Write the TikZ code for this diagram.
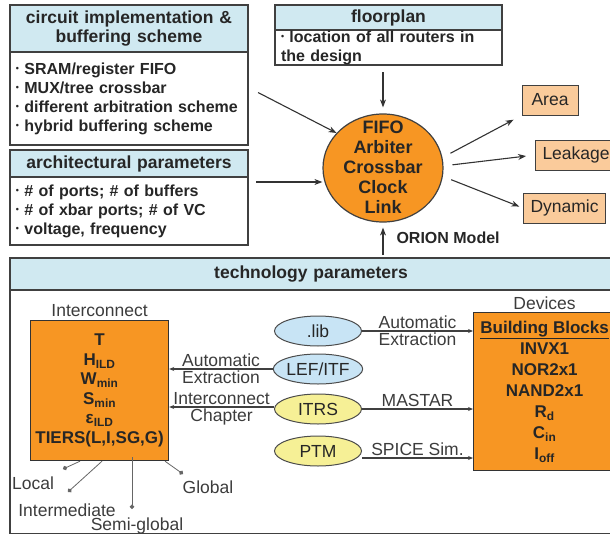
\documentclass[tikz,border=0pt]{standalone}
\usepackage{fontspec}
\setmainfont{Liberation Sans}
\usetikzlibrary{
    arrows.meta,
    positioning,
    calc,
    shapes.geometric
}
\definecolor{hdrblue}{RGB}{208,233,241}
\definecolor{orionorange}{RGB}{247,150,35}
\definecolor{peach}{RGB}{250,203,155}
\definecolor{ellblue}{RGB}{200,228,245}
\definecolor{ellyellow}{RGB}{246,240,150}
\definecolor{labgray}{RGB}{60,60,60}
\newcommand{\bul}{\raisebox{0.3ex}{\scalebox{0.55}{\textbullet}}\ }
\tikzset{
    hdrbox/.style={
        draw=black!75,
        rectangle,
        line width=1.2pt,
        fill=hdrblue,
        align=center,
        inner sep=0pt,
        outer sep=0pt,
        font=\fontsize{17.5}{19.5}\selectfont\bfseries
    },
    bodybox/.style={
        draw=black!75,
        rectangle,
        line width=1.2pt,
        fill=white,
        align=left,
        inner xsep=6pt,
        inner ysep=0pt,
        outer sep=0pt,
        font=\fontsize{16}{19}\selectfont\bfseries
    },
    orangebox/.style={
        draw=black!80,
        rectangle,
        line width=1.2pt,
        fill=orionorange,
        align=center,
        inner sep=0pt,
        font=\fontsize{17}{19.5}\selectfont\bfseries
    },
    outbox/.style={
        draw=black!75,
        rectangle,
        line width=1pt,
        fill=peach,
        minimum height=30pt,
        inner xsep=7pt,
        font=\fontsize{17.5}{19}\selectfont
    },
    srcell/.style={
        draw=black!70,
        ellipse,
        line width=1pt,
        minimum width=87pt,
        minimum height=30pt,
        inner sep=0pt,
        font=\fontsize{17.5}{19}\selectfont
    },
    lbl/.style={
        font=\fontsize{17.5}{19}\selectfont,
        text=labgray,
        inner sep=1.5pt
    },
    arr/.style={
        -{Stealth[length=8pt,width=6pt]},
        line width=1.1pt,
        draw=black!80
    }
}

\begin{document}
\begin{tikzpicture}[
    x=1pt, y=-1pt,
    every node/.style={text=black!85},
    corenode/.style={
        draw=black!75,
        ellipse,
        line width=1.2pt,
        fill=orionorange,
        minimum width=120pt,
        minimum height=108pt,
        inner sep=0pt,
        font=\fontsize{18}{20}\selectfont\bfseries
    },
    thinarr/.style={
        -{Stealth[length=5pt,width=4pt]},
        line width=1.1pt,
        draw=black!75
    },
    tierline/.style={
        -{Circle[length=4.5pt]},
        line width=0.8pt,
        draw=black!60
    }
]
\useasboundingbox (0,0) rectangle (610,535);

% inputs on the left
\node[hdrbox, text width=238pt, minimum height=47pt, anchor=north west] (circhdr) at (10,5) {circuit implementation \&\\ buffering scheme};
\node[bodybox, text width=226pt, minimum height=93pt, below=0pt of circhdr] (circbody) {\bul SRAM/register FIFO\\ \bul MUX/tree crossbar\\ \bul different arbitration scheme\\ \bul hybrid buffering scheme};

\node[hdrbox, text width=238pt, minimum height=27pt, below=5pt of circbody] (archhdr) {architectural parameters};
\node[bodybox, text width=226pt, minimum height=68pt, below=0pt of archhdr] (archbody) {\bul \# of ports; \# of buffers\\ \bul \# of xbar ports; \# of VC\\ \bul voltage, frequency};

\node[hdrbox, text width=227pt, minimum height=25pt, anchor=north west] (floorhdr) at (275,5) {floorplan};
\node[bodybox, text width=215pt, minimum height=35pt, below=0pt of floorhdr] (floorbody) {\bul location of all routers in\\ the design};

% orion core
\node[corenode] (core) at (383,168) {\raisebox{-11pt}{\smash{\begin{tabular}{@{}c@{}}FIFO\\ Arbiter\\ Crossbar\\ Clock\\ Link\end{tabular}}}};
\node[font=\fontsize{16}{18}\selectfont\bfseries, anchor=west] (orion) at (393,238) {ORION Model};

% outputs
\node[outbox, minimum width=56pt] (area) at (550,100) {Area};
\node[outbox, anchor=west] (leak) at (535,155) {Leakage};
\node[outbox, anchor=west] (dyn) at (523,208) {Dynamic};

\draw[arr] ([xshift=10pt,yshift=6pt]circbody.east) -- (core.143);
\draw[arr] ([xshift=8pt,yshift=-5pt]archbody.north east) -- ([yshift=-5pt]archbody.north east -| core.west);
\draw[arr, shorten <=7pt, shorten >=6pt] (core.north |- floorbody.south) -- (core.north);
\draw[arr, shorten <=9pt, shorten >=9pt] (core.10) -- (area.south west);
\draw[arr, shorten <=9pt, shorten >=9pt] (core.2) -- (leak.west);
\draw[arr, shorten <=9pt, shorten >=4pt] (core.-8) -- (dyn.west);

% technology parameters
\node[hdrbox, text width=602pt, minimum height=32pt, anchor=north west] (techhdr) at (10,258) {technology parameters};
\node[draw=black!75, line width=1.2pt, minimum width=602pt, minimum height=243pt, inner sep=0pt, below=0pt of techhdr] (techbody) {};
\draw[arr, shorten >=5pt] ([yshift=3pt]techhdr.north -| core.south) -- (core.south);

\node[orangebox, minimum width=138pt, minimum height=140pt, anchor=north west] (intbox) at (30,320) {T\\ H\textsubscript{ILD}\\ W\textsubscript{min}\\ S\textsubscript{min}\\ ε\textsubscript{ILD}\\ TIERS(L,I,SG,G)};
\node[lbl, above=2pt of intbox] (intlbl) {Interconnect};

\node[orangebox, font=\fontsize{17}{21}\selectfont\bfseries, minimum width=142pt, minimum height=158pt, anchor=north west] (devbox) at (473,312) {\underline{Building Blocks}\\ INVX1\\ NOR2x1\\ NAND2x1\\ R\textsubscript{d}\\ C\textsubscript{in}\\ I\textsubscript{off}};
\node[lbl, above=1pt of devbox] (devlbl) {Devices};

\node[srcell, fill=ellblue] (lib) at (318,331) {.lib};
\node[srcell, fill=ellblue] (lef) at (318,369) {LEF/ITF};
\node[srcell, fill=ellyellow] (itrs) at (318,409) {ITRS};
\node[srcell, fill=ellyellow] (ptm) at (318,451) {PTM};

\draw[thinarr] (lib.east) -- (lib.east -| devbox.west)
    node[lbl, midway, above] {Automatic} node[lbl, midway, below] {Extraction};
\draw[thinarr] (itrs.east) -- (itrs.east -| devbox.west)
    node[lbl, midway, above] {MASTAR};
\draw[thinarr] ([yshift=-7pt]ptm.east) -- ([yshift=-7pt]ptm.east -| devbox.west)
    node[lbl, midway, above] {SPICE Sim.};
\draw[thinarr] (lef.west) -- (lef.west -| intbox.east)
    node[lbl, midway, above] {Automatic} node[lbl, midway, below] {Extraction};
\draw[thinarr] ([yshift=2pt]itrs.west) -- ([yshift=2pt]itrs.west -| intbox.east)
    node[lbl, midway, above] {Interconnect} node[lbl, midway, below] {Chapter};

% tiers
\coordinate (localdot) at (63,469);
\coordinate (interdot) at (68,492);
\coordinate (semidot) at (132,509);
\coordinate (globaldot) at (183,474);
\node[lbl] (locallbl) at (33,483) {Local};
\node[lbl] (interlbl) at (67,510) {Intermediate};
\node[lbl] (semilbl) at (137,526) {Semi-global};
\node[lbl] (globallbl) at (208,487) {Global};
\draw[tierline] ([xshift=50pt]intbox.south west) -- (localdot);
\draw[tierline] ([xshift=72pt]intbox.south west) -- (interdot);
\draw[tierline] ([xshift=102pt,yshift=4pt]intbox.south west) -- (semidot);
\draw[tierline] ([xshift=135pt]intbox.south west) -- (globaldot);

\end{tikzpicture}
\end{document}
